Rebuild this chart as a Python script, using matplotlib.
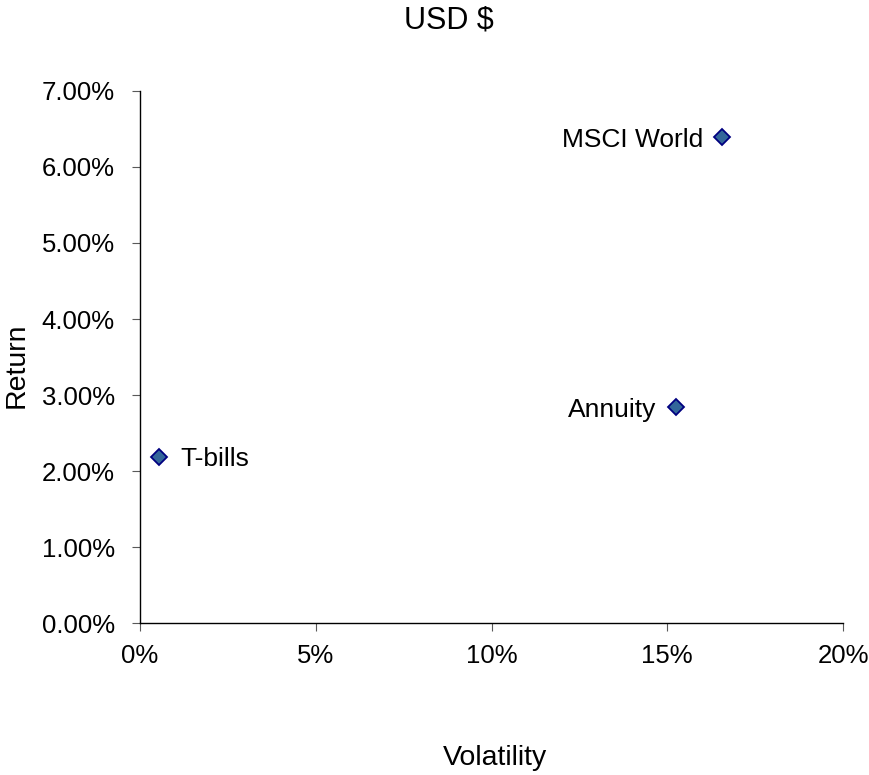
import matplotlib.pyplot as plt
from matplotlib.ticker import FuncFormatter

plt.rcParams['font.family'] = ['Liberation Sans', 'DejaVu Sans']

# volatility (%) and return (%) for each asset
names = ['MSCI World', 'Annuity', 'T-bills']
volatility = [16.55, 15.25, 0.55]
returns = [6.39, 2.84, 2.19]
label_dx = [-13, -14, 15]

fig = plt.figure(figsize=(8.69, 7.75), dpi=100)
ax = fig.add_axes([0.1611, 0.1961, 0.8090, 0.6865])

ax.plot(volatility, returns, linestyle='none', marker='D', markersize=8,
        markerfacecolor='#33669a', markeredgecolor='#000080', markeredgewidth=1.3)

for n, x, y, dx in zip(names, volatility, returns, label_dx):
    ha = 'right' if dx < 0 else 'left'
    ax.annotate(n, (x, y), xytext=(dx, 0), textcoords='offset points',
                ha=ha, va='center_baseline', fontsize=19)

ax.set_xlim(0, 20)
ax.set_ylim(0, 7)
ax.set_xticks([0, 5, 10, 15, 20])
ax.set_yticks([0, 1, 2, 3, 4, 5, 6, 7])
ax.xaxis.set_major_formatter(FuncFormatter(lambda v, p: '%d%%' % v))
ax.yaxis.set_major_formatter(FuncFormatter(lambda v, p: '%.2f%%' % v))
ax.tick_params(labelsize=18.5, length=6, width=0.8, color='0.35', direction='out')
ax.tick_params(axis='x', pad=9)
ax.tick_params(axis='y', pad=12)

for s in ['top', 'right']:
    ax.spines[s].set_visible(False)
for s in ['left', 'bottom']:
    ax.spines[s].set_linewidth(1.0)

fig.text(0.517, 0.974, 'USD $', ha='center', va='center', fontsize=22)
fig.text(0.570, 0.022, 'Volatility', ha='center', va='center', fontsize=20.5)
fig.text(0.019, 0.529, 'Return', ha='center', va='center', rotation=90, fontsize=20.5)

fig.savefig('out.png', dpi=100)
